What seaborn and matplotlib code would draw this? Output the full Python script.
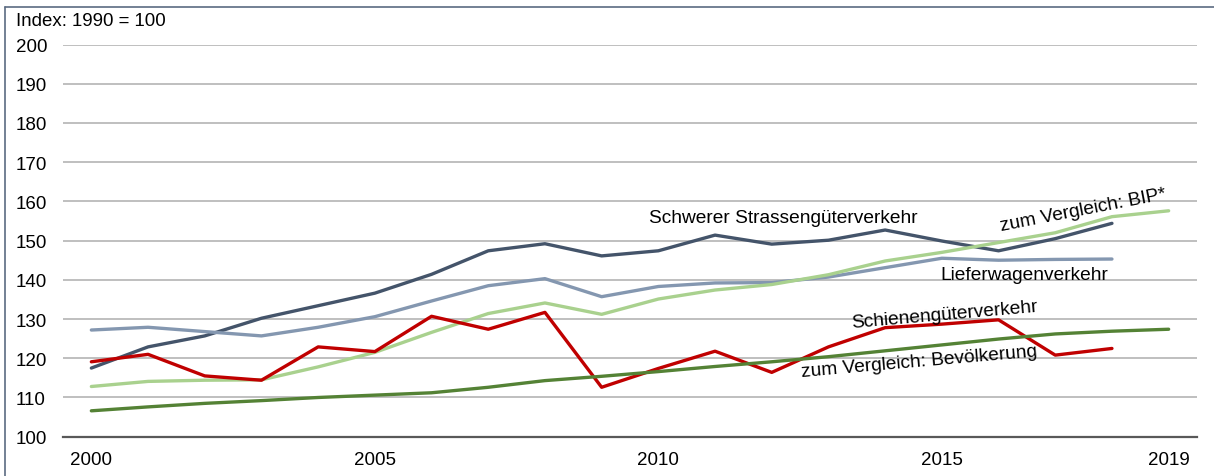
"""
plot.py

Güterverkehr in der Schweiz, Index 1990 = 100.
"""

import matplotlib

matplotlib.use("Agg")

import matplotlib.pyplot as plt
import numpy as np
import pandas as pd
import seaborn as sns
from matplotlib.lines import Line2D


# ==========================================================
# Data
# ==========================================================

years = list(range(2000, 2020))

schwer = [
    117.5, 122.9, 125.7, 130.2, 133.4, 136.6, 141.4, 147.4, 149.2, 146.1,
    147.4, 151.4, 149.1, 150.1, 152.7, 149.9, 147.4, 150.5, 154.4, None,
]

lieferwagen = [
    127.2, 127.9, 126.8, 125.7, 127.9, 130.6, 134.6, 138.5, 140.3, 135.7,
    138.3, 139.2, 139.3, 140.7, 143.1, 145.5, 145.0, 145.2, 145.3, None,
]

bip = [
    112.8, 114.1, 114.4, 114.5, 117.8, 121.5, 126.6, 131.4, 134.1, 131.2,
    135.1, 137.4, 138.8, 141.3, 144.8, 147.0, 149.5, 152.0, 156.1, 157.6,
]

schiene = [
    119.1, 121.0, 115.5, 114.4, 122.9, 121.7, 130.7, 127.4, 131.7, 112.6,
    117.4, 121.8, 116.4, 122.9, 127.8, 128.7, 129.8, 120.8, 122.5, None,
]

bevoelkerung = [
    106.6, 107.6, 108.5, 109.2, 110.0, 110.6, 111.2, 112.6, 114.3, 115.4,
    116.6, 117.9, 119.1, 120.4, 121.9, 123.4, 124.9, 126.2, 126.9, 127.4,
]

x_tick_labels = ["2000", "2005", "2010", "2015", "2019"]
x_tick_years = [2000, 2005, 2010, 2015, 2019]
y_ticks = list(range(100, 210, 10))

series = [
    ("Schwerer Strassengüterverkehr", schwer, "#44546A"),
    ("Lieferwagenverkehr", lieferwagen, "#8497B0"),
    ("zum Vergleich: BIP*", bip, "#A9D18E"),
    ("Schienengüterverkehr", schiene, "#C00000"),
    ("zum Vergleich: Bevölkerung", bevoelkerung, "#548235"),
]


# ==========================================================
# Plot
# ==========================================================

sns.set_theme(style="white")
plt.rcParams["font.family"] = ["Liberation Sans", "DejaVu Sans"]

fig = plt.figure(figsize=(12.14, 4.77), dpi=100)
ax = fig.add_axes([63 / 1214, 1 - 437.7 / 477, (1197 - 63) / 1214, (437.7 - 45.5) / 477])

for name, values, color in series:
    frame = pd.DataFrame({"Jahr": years, "Wert": np.array(values, dtype=float)})
    sns.lineplot(
        data=frame.dropna(),
        x="Jahr",
        y="Wert",
        color=color,
        linewidth=2.4,
        ax=ax,
        legend=False,
    )

ax.set_xlim(1999.5, 2019.5)
ax.set_ylim(100, 200)

ax.set_yticks(y_ticks)
ax.set_xticks(x_tick_years)
ax.set_xticklabels(x_tick_labels)
ax.set_xlabel("")
ax.set_ylabel("")

ax.grid(axis="y", color="#BFBFBF", linewidth=1.4)
ax.set_axisbelow(True)

for side in ["top", "right", "left"]:
    ax.spines[side].set_visible(False)

ax.spines["bottom"].set_color("#595959")
ax.spines["bottom"].set_linewidth(1.6)

# y labels left-aligned at x = 16 px, axes starts at 63 px -> 47 px = 33.8 pt
ax.tick_params(axis="y", length=0, pad=33.8, labelsize=13.5, labelcolor="black")
ax.tick_params(axis="x", length=0, pad=10.5, labelsize=13.5, labelcolor="black")

for label in ax.get_yticklabels():
    label.set_horizontalalignment("left")

# Series labels
label_style = dict(fontsize=13.8, color="black", ha="center", va="center",
                   rotation_mode="anchor")

ax.text(2012.2, 155.9, "Schwerer Strassengüterverkehr", **label_style)
ax.text(2017.5, 157.9, "zum Vergleich: BIP*", rotation=11, **label_style)
ax.text(2016.45, 141.4, "Lieferwagenverkehr", **label_style)
ax.text(2015.05, 131.3, "Schienengüterverkehr", rotation=5, **label_style)
ax.text(2014.6, 119.3, "zum Vergleich: Bevölkerung", rotation=5, **label_style)

fig.text(16 / 1214, 1 - 22 / 477, "Index: 1990 = 100", fontsize=13.4,
         color="black", ha="left", va="center")

# Frame lines (left and top)
fig.add_artist(Line2D([5 / 1214, 5 / 1214], [0, 1 - 8 / 477],
                      transform=fig.transFigure, color="#5B6B82", linewidth=1.2))
fig.add_artist(Line2D([5 / 1214, 1], [1 - 8 / 477, 1 - 8 / 477],
                      transform=fig.transFigure, color="#5B6B82", linewidth=1.2))

fig.savefig("out.png", dpi=100)
plt.close(fig)
